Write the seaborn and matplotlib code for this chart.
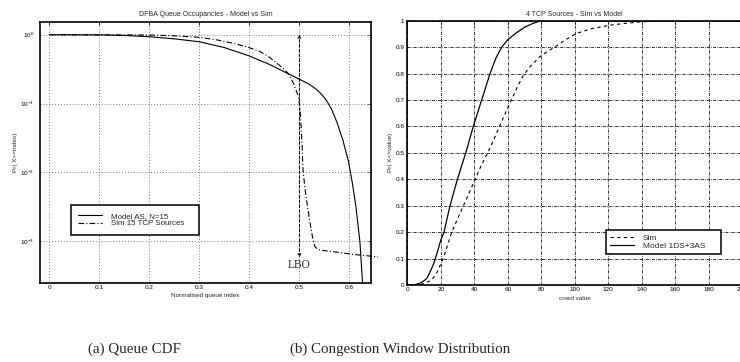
import numpy as np
import pandas as pd
import matplotlib
matplotlib.use('Agg')
import matplotlib.pyplot as plt
import seaborn as sns

# (a) queue CDF, log scale
queue_x_model = [0.0, 0.1, 0.15, 0.2, 0.25, 0.3, 0.35, 0.4, 0.44, 0.478, 0.5, 0.52, 0.535, 0.545,
                 0.555, 0.565, 0.575, 0.587, 0.598, 0.606, 0.613, 0.621, 0.628]
queue_y_model = [1.0, 0.995, 0.975, 0.935, 0.87, 0.79, 0.65, 0.49, 0.37, 0.27, 0.225, 0.19,
                 0.158, 0.134, 0.108, 0.08, 0.053, 0.029, 0.0144, 0.0068, 0.0031, 9.5e-4, 1.5e-4]
queue_x_sim = [0.0, 0.2, 0.25, 0.3, 0.335, 0.368, 0.395, 0.421, 0.44, 0.455, 0.468, 0.478,
               0.488, 0.498, 0.5014, 0.505, 0.507, 0.51, 0.513, 0.517, 0.521, 0.526, 0.531,
               0.536, 0.541, 0.575, 0.608, 0.657]
queue_y_sim = [1.0, 0.99, 0.965, 0.916, 0.84, 0.75, 0.665, 0.57, 0.47, 0.385, 0.32, 0.27,
               0.197, 0.126, 0.081, 0.0267, 0.011, 6.8e-3, 4.5e-3, 2.9e-3, 1.86e-3, 1.15e-3,
               8.3e-4, 7.7e-4, 7.4e-4, 6.9e-4, 6.4e-4, 5.9e-4]
queue_labels = ['Model AS, N=15', 'Sim 15 TCP Sources']
queue_xticks = [0, 0.1, 0.2, 0.3, 0.4, 0.5, 0.6]
queue_yticks = [1e-3, 1e-2, 1e-1, 1e0]
queue_ytick_labels = ['$10^{-3}$', '$10^{-2}$', '$10^{-1}$', '$10^{0}$']
lbo_x = 0.5
lbo_y_top = 1.0
lbo_y_bottom = 5.8e-4
lbo_text_y = 4.5e-4

# (b) congestion window distribution
cwnd_x_sim = [0, 5, 8, 11, 14.6, 17.5, 20, 21.5, 24, 26.5, 30, 33.5, 37, 40.5, 44, 48, 52, 55,
              60.3, 65.3, 69, 73.3, 79.2, 84, 89.2, 95, 101.1, 110, 121, 130, 140, 150, 160, 200]
cwnd_y_sim = [0, 0, 0.002, 0.008, 0.019, 0.045, 0.08, 0.1, 0.15, 0.2, 0.25, 0.3, 0.35, 0.4,
              0.45, 0.5, 0.555, 0.6, 0.675, 0.744, 0.79, 0.826, 0.864, 0.885, 0.905, 0.93,
              0.952, 0.97, 0.983, 0.99, 0.996, 0.999, 1.0, 1.0]
cwnd_x_model = [0, 5, 8, 10, 11.6, 13, 15.5, 17.5, 20, 21.9, 25.5, 29.9, 34.9, 39.4, 44.4, 49.4,
                53, 56.4, 60, 65.3, 70, 75, 80, 100, 200]
cwnd_y_model = [0, 0.002, 0.008, 0.016, 0.025, 0.042, 0.076, 0.115, 0.17, 0.2, 0.3, 0.4, 0.5,
                0.6, 0.7, 0.8, 0.86, 0.9, 0.928, 0.955, 0.975, 0.99, 1.0, 1.0, 1.0]
cwnd_labels = ['Sim', 'Model 1DS+3AS']
cwnd_xticks = list(range(0, 201, 20))
cwnd_yticks = [0, 0.1, 0.2, 0.3, 0.4, 0.5, 0.6, 0.7, 0.8, 0.9, 1]
cwnd_ytick_labels = ['0', '0.1', '0.2', '0.3', '0.4', '0.5', '0.6', '0.7', '0.8', '0.9', '1']

captions = ['(a) Queue CDF', '(b) Congestion Window Distribution']

sns.set_theme(style='white')
plt.rcParams['font.family'] = ['Liberation Sans', 'DejaVu Sans']
plt.rcParams['mathtext.fontset'] = 'custom'
plt.rcParams['mathtext.rm'] = 'Liberation Sans'
plt.rcParams['mathtext.it'] = 'Liberation Sans'

DASHDOT = (0, (5, 2, 1, 2))
DASHED = (0, (3, 3))
TICK_FS = 4.6

fig = plt.figure(figsize=(7.4, 3.62), dpi=100)
ax1 = fig.add_axes([40 / 740, 79 / 362, 331 / 740, 261 / 362])
ax2 = fig.add_axes([407.3 / 740, 77 / 362, 335 / 740, 264.3 / 362])

# ---- (a) ----
df_q1 = pd.DataFrame({'x': queue_x_model, 'y': queue_y_model})
df_q2 = pd.DataFrame({'x': queue_x_sim, 'y': queue_y_sim})
sns.lineplot(data=df_q1, x='x', y='y', ax=ax1, color='black', lw=0.8, label=queue_labels[0],
             estimator=None, sort=False)
sns.lineplot(data=df_q2, x='x', y='y', ax=ax1, color='black', lw=0.8, label=queue_labels[1],
             estimator=None, sort=False)
ax1.lines[1].set_linestyle(DASHDOT)
ax1.lines[1].set_clip_on(False)
ax1.set_yscale('log')
ax1.set_xlim(-0.0187, 0.643)
ax1.set_ylim(2.46e-4, 1.53)
ax1.set_xticks(queue_xticks)
ax1.set_xticklabels([f'{t:g}' for t in queue_xticks])
ax1.set_yticks(queue_yticks)
ax1.set_yticklabels(queue_ytick_labels)
ax1.yaxis.set_minor_locator(matplotlib.ticker.NullLocator())
ax1.grid(True, which='major', color='0.3', linestyle=(0, (1, 2.5)), lw=0.6)
ax1.set_title('DFBA Queue Occupancies - Model vs Sim', fontsize=5, pad=4)
ax1.set_xlabel('Normalised queue index', fontsize=TICK_FS, labelpad=2)
ax1.set_ylabel('Pr( X>=index)', fontsize=TICK_FS, labelpad=2)
ax1.annotate('', xy=(lbo_x, lbo_y_top), xytext=(lbo_x, lbo_y_bottom),
             arrowprops=dict(arrowstyle='<->', color='black', lw=0.7, linestyle=(0, (3, 2)),
                             shrinkA=0, shrinkB=0, mutation_scale=5))
ax1.text(lbo_x, lbo_text_y, 'LBO', ha='center', va='center', fontsize=8.3,
         family=['Liberation Serif', 'DejaVu Serif'])
leg1 = ax1.legend(loc='lower left', bbox_to_anchor=(0.0927, 0.184, 0.389, 0.131), mode='expand',
                  borderaxespad=0, fontsize=5.7, handlelength=3.0, handletextpad=1.2,
                  labelspacing=0.0, borderpad=0.95, fancybox=False, framealpha=1,
                  edgecolor='black')
leg1.get_frame().set_linewidth(1.1)
leg1.get_lines()[1].set_linestyle(DASHDOT)

# ---- (b) ----
df_c1 = pd.DataFrame({'x': cwnd_x_sim, 'y': cwnd_y_sim})
df_c2 = pd.DataFrame({'x': cwnd_x_model, 'y': cwnd_y_model})
sns.lineplot(data=df_c1, x='x', y='y', ax=ax2, color='black', lw=0.8, label=cwnd_labels[0],
             estimator=None, sort=False)
sns.lineplot(data=df_c2, x='x', y='y', ax=ax2, color='black', lw=0.9, label=cwnd_labels[1],
             estimator=None, sort=False)
ax2.lines[0].set_linestyle(DASHED)
ax2.set_xlim(0, 200)
ax2.set_ylim(0, 1)
ax2.set_xticks(cwnd_xticks)
ax2.set_yticks(cwnd_yticks)
ax2.set_yticklabels(cwnd_ytick_labels)
ax2.grid(True, color='black', linestyle=(0, (4, 1.5, 1, 1.5)), lw=0.55)
ax2.set_title('4 TCP Sources - Sim vs Model', fontsize=5, pad=3.7)
ax2.set_xlabel('cnwd value', fontsize=TICK_FS, labelpad=2.5)
ax2.set_ylabel('Pr( X<=value)', fontsize=TICK_FS, labelpad=2)
leg2 = ax2.legend(loc='lower left', bbox_to_anchor=(0.592, 0.117, 0.344, 0.0935), mode='expand',
                  borderaxespad=0, fontsize=6, handlelength=2.9, handletextpad=1.1,
                  labelspacing=0.0, borderpad=0.5, fancybox=False, framealpha=1,
                  edgecolor='black')
leg2.get_frame().set_linewidth(1.1)
leg2.get_lines()[0].set_linestyle(DASHED)

for ax in (ax1, ax2):
    for s in ax.spines.values():
        s.set_linewidth(1.2)
        s.set_color('black')
    ax.tick_params(direction='in', length=2.5, width=0.6, top=True, right=True,
                   labelsize=TICK_FS, pad=1.5, colors='black')
ax1.tick_params(axis='y', pad=4)
ax2.tick_params(axis='y', pad=2)

fig.text(134.5 / 740, 1 - 349 / 362, captions[0], ha='center', va='center', fontsize=10.8,
         family=['Liberation Serif', 'DejaVu Serif'])
fig.text(400.5 / 740, 1 - 349 / 362, captions[1], ha='center', va='center', fontsize=10.8,
         family=['Liberation Serif', 'DejaVu Serif'])

fig.savefig('out.png', dpi=100)
plt.close(fig)
